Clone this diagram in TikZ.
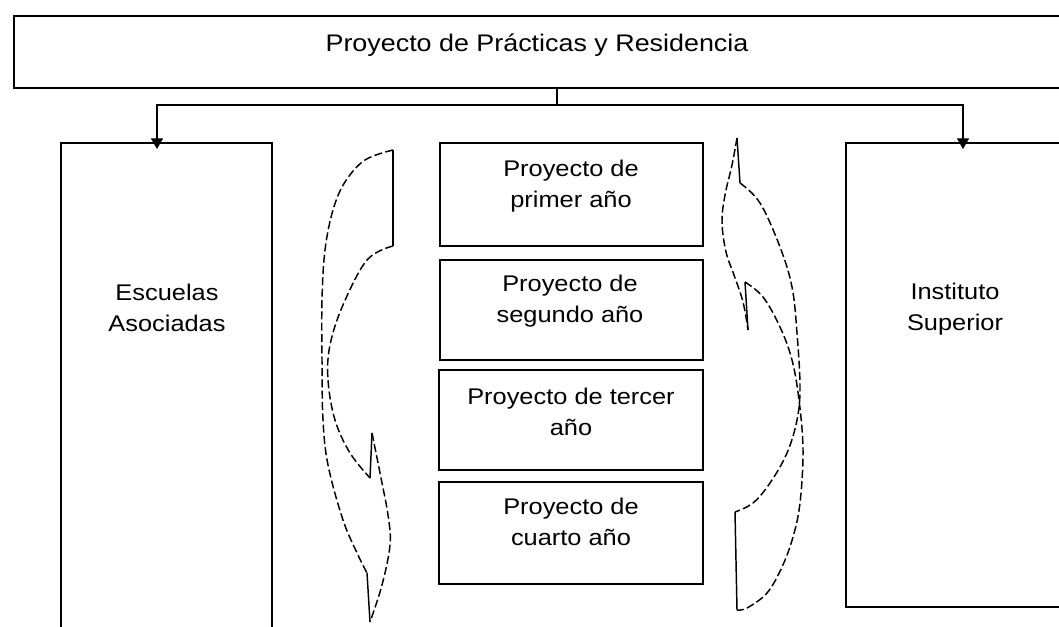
\documentclass[tikz,border=0pt]{standalone}
\usepackage{fontspec}
\newfontfamily\wfont[FakeStretch=1.12]{Liberation Sans}
\usetikzlibrary{arrows.meta}
\begin{document}
\begin{tikzpicture}[x=0.75pt,y=-0.75pt,
  box/.style={draw=black,line width=1.1pt,inner sep=0pt},
  lbl/.style={font=\wfont\fontsize{17}{23.25}\selectfont,align=center,inner sep=0pt},
  ttl/.style={font=\wfont\fontsize{18}{23}\selectfont,inner sep=0pt},
  conn/.style={draw=black,line width=1.1pt},
  crv/.style={draw=black,line width=1.1pt,dash pattern=on 6pt off 2.5pt,line join=round},
  tipd/.style={-{Triangle[width=9pt,length=8pt]}}]
\useasboundingbox (0,0) rectangle (1059,627);
\clip (0,0) rectangle (1059,627);
% outer title frame
\node[box,minimum width=814.5pt,minimum height=54pt] (title) at (557,52) {};
\node[ttl] (ttext) at (537,45) {Proyecto de Prácticas y Residencia};
% side boxes
\node[box,minimum width=158.25pt,minimum height=417.75pt] (esc) at (166.5,421.5) {};
\node[lbl] (esct) at (167,308) {Escuelas\\Asociadas};
\node[box,minimum width=190.5pt,minimum height=348pt] (ins) at (973,375) {};
\node[lbl] (inst) at (955,309) {Instituto\\Superior};
% central boxes
\node[box,minimum width=197.25pt,minimum height=77.25pt] (b1) at (571.5,194.5) {};
\node[lbl] (t1) at (571,186) {Proyecto de\\primer año};
\node[box,minimum width=197.25pt,minimum height=75pt] (b2) at (571.5,310) {};
\node[lbl] (t2) at (570,301) {Proyecto de\\segundo año};
\node[box,minimum width=198pt,minimum height=75pt] (b3) at (571,420) {};
\node[lbl] (t3) at (571,412) {Proyecto de tercer\\año};
\node[box,minimum width=198pt,minimum height=76.5pt] (b4) at (571,533) {};
\node[lbl] (t4) at (571,522) {Proyecto de\\cuarto año};
% connectors from title
\coordinate (j) at (557,105);
\coordinate (ea) at (157,149);
\coordinate (ia) at (963,149);
\draw[conn] (title.south) -- (j);
\draw[conn,tipd] (j) -| (ea);
\draw[conn,tipd] (j) -| (ia);
% left curved arrow (pointing down)
\draw[conn] (393,150) -- (393,246);
\draw[crv] plot[smooth,tension=0.6] coordinates {(393,150) (365,160) (345,182) (333,210) (325,250) (322,300) (322,360) (323,420) (328,465) (343,520) (358,555) (367,573)};
\draw[crv] plot[smooth,tension=0.6] coordinates {(393,246) (367,260) (343,305) (330,345) (328,380) (335,420) (350,453) (370,478)};
\draw[conn] (370,478) -- (372,433);
\draw[crv] plot[smooth,tension=0.6] coordinates {(372,433) (381,478) (388,515) (390,545) (382,585) (370,622)};
\draw[conn] (370,622) -- (367,573);
% right curved arrow (pointing up)
\draw[conn] (737,138) -- (740,183);
\draw[crv] plot[smooth,tension=0.6] coordinates {(737,138) (732,165) (725,195) (722,222) (726,252) (734,275) (743,302) (748,330)};
\draw[conn] (748,330) -- (745,282);
\draw[crv] plot[smooth,tension=0.6] coordinates {(740,183) (760,203) (780,247) (792,287) (797,333) (800,387) (797,420) (787,453) (770,483) (753,503) (735,512)};
\draw[conn] (735,512) -- (737,610);
\draw[crv] plot[smooth,tension=0.6] coordinates {(745,282) (763,297) (780,327) (792,360) (799,400) (803,450) (800,503) (793,537) (782,567) (767,593) (747,608) (737,610)};
\end{tikzpicture}
\end{document}
